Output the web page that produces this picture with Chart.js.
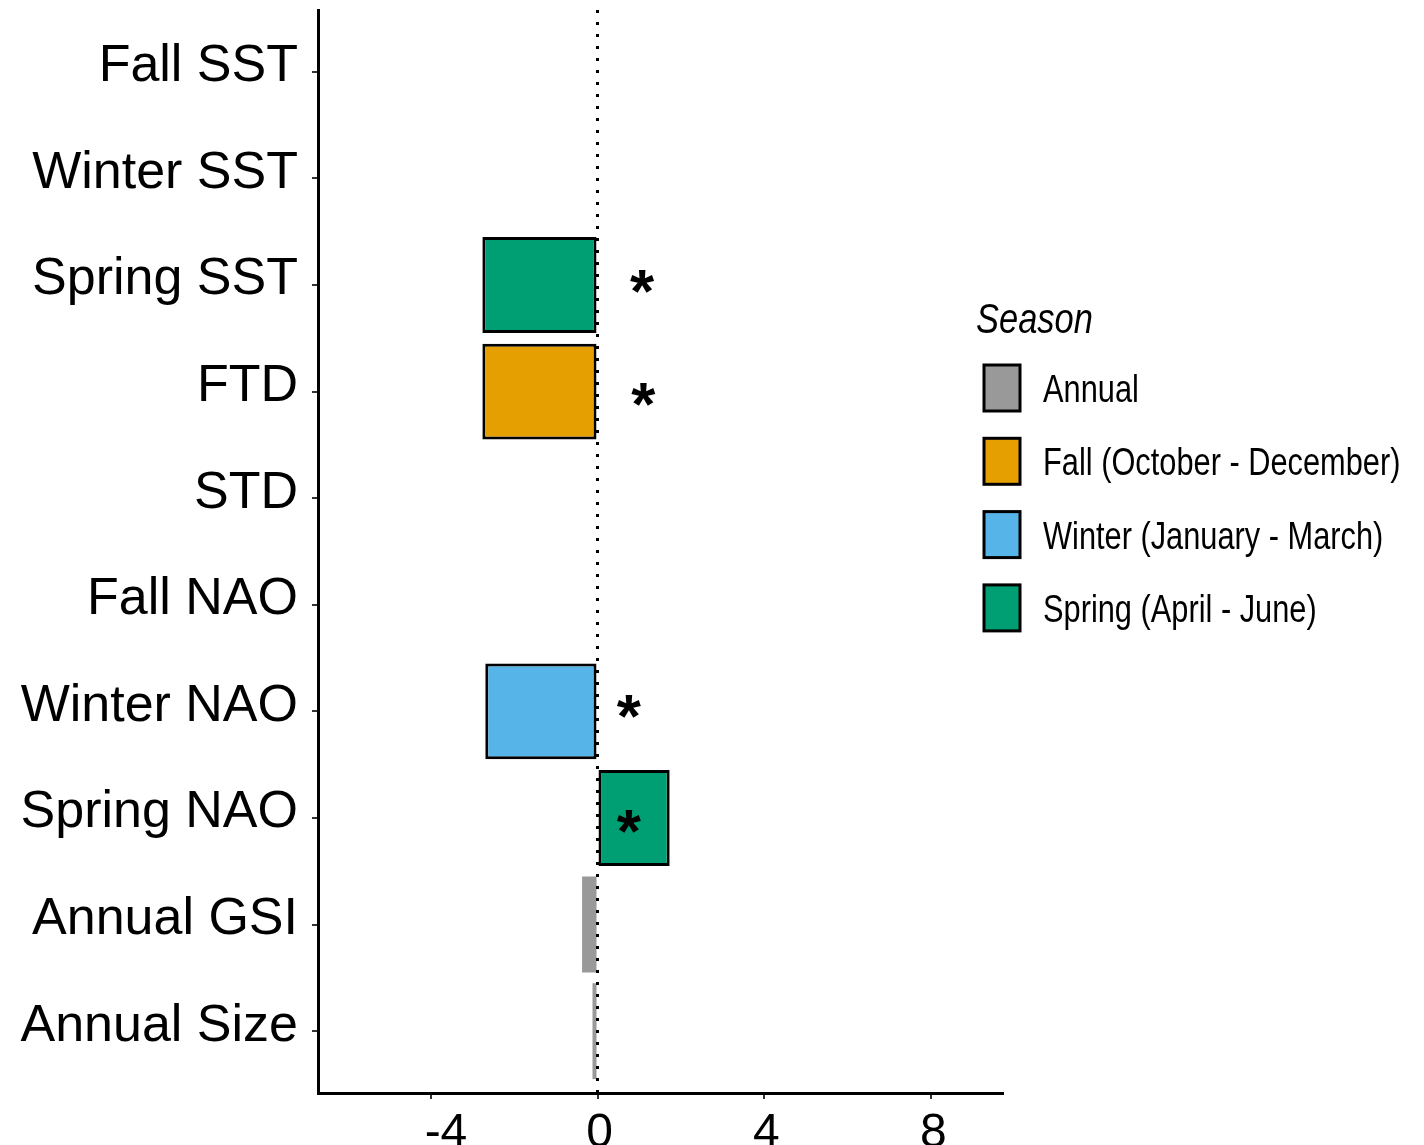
<!DOCTYPE html>
<html>
<head>
<meta charset="utf-8">
<script src="https://cdn.jsdelivr.net/npm/chart.js@4.4.0/dist/chart.umd.min.js"></script>
<style>
  html, body { margin: 0; padding: 0; background: #fff; }
</style>
</head>
<body>
<canvas id="myChart" width="1424" height="1145"></canvas>
<script>
const categories = ["Fall SST", "Winter SST", "Spring SST", "FTD", "STD", "Fall NAO", "Winter NAO", "Spring NAO", "Annual GSI", "Annual Size"];
const seasons = ["Annual", "Fall (October - December)", "Winter (January - March)", "Spring (April - June)"];
const seasonColors = ["#999999", "#E69F00", "#56B4E9", "#009E73"];
// one value per category, null = no bar
const annualValues = [null, null, null, null, null, null, null, null, -0.37, -0.12];
const fallValues = [null, null, null, -2.76, null, null, null, null, null, null];
const winterValues = [null, null, null, null, null, null, -2.69, null, null, null];
const springValues = [null, null, -2.76, null, null, null, null, 1.73, null, null];
// significance stars (x value, category position)
const starX = [1.07, 1.1, 0.75, 0.75];
const starY = [1.99, 3.05, 5.97, 7.05];
const xTicks = [-4, 0, 4, 8];
const xMin = -6.7;
const xMax = 9.72;

const ctx = document.getElementById("myChart").getContext("2d");

const toPoints = (vals) => vals.map((v, i) => (v === null ? null : { x: v, y: i })).filter((p) => p);

const makeSet = (idx, vals, border) => ({
  label: seasons[idx],
  data: toPoints(vals),
  backgroundColor: seasonColors[idx],
  borderColor: "#000",
  borderWidth: border,
  borderSkipped: false,
  grouped: false,
  barPercentage: 0.9,
  categoryPercentage: 1.0,
});

const noPad = (s) => {
  s.paddingTop = 0;
  s.paddingBottom = 0;
  s.paddingLeft = 0;
  s.paddingRight = 0;
};

//Zero line, stars and legend
const extras = {
  id: "extras",
  afterDatasetsDraw(chart) {
    const c = chart.ctx;
    const xs = chart.scales.x;
    const ys = chart.scales.y;
    const area = chart.chartArea;
    const x0 = xs.getPixelForValue(0);
    c.save();
    c.strokeStyle = "#000";
    c.lineWidth = 3;
    c.setLineDash([3, 9]);
    c.beginPath();
    c.moveTo(x0, area.top);
    c.lineTo(x0, area.bottom);
    c.stroke();
    c.setLineDash([]);

    const starSize = 62;
    c.fillStyle = "#000";
    c.font = "bold " + starSize + "px 'Liberation Sans', Arial, sans-serif";
    c.textAlign = "center";
    c.textBaseline = "alphabetic";
    for (let i = 0; i < starX.length; i++) {
      const px = xs.getPixelForValue(starX[i]);
      const py = ys.getPixelForValue(starY[i]);
      c.fillText("*", px, py + 0.46 * starSize);
    }
    c.restore();
  },
  afterDraw(chart) {
    const c = chart.ctx;
    c.save();
    c.fillStyle = "#000";
    c.textAlign = "left";
    c.textBaseline = "alphabetic";
    // narrow font look
    c.save();
    c.translate(976, 333);
    c.scale(0.82, 1);
    c.font = "italic 42px 'Liberation Sans', Arial, sans-serif";
    c.fillText("Season", 0, 0);
    c.restore();

    const boxTop = 365;
    const step = 73.3;
    for (let i = 0; i < seasons.length; i++) {
      const top = boxTop + i * step;
      c.fillStyle = seasonColors[i];
      c.fillRect(984, top, 36, 46);
      c.strokeStyle = "#000";
      c.lineWidth = 3;
      c.strokeRect(984, top, 36, 46);
      c.fillStyle = "#000";
      c.save();
      c.translate(1043, top + 23 + 14);
      c.scale(0.81, 1);
      c.font = "38px 'Liberation Sans', Arial, sans-serif";
      c.fillText(seasons[i], 0, 0);
      c.restore();
    }
    c.restore();
  },
};

const myChart = new Chart(ctx, {
  type: "bar",
  data: {
    datasets: [
      makeSet(0, annualValues, 0),
      makeSet(1, fallValues, 3),
      makeSet(2, winterValues, 3),
      makeSet(3, springValues, 3),
    ],
  },
  options: {
    indexAxis: "y",
    responsive: false,
    animation: false,
    devicePixelRatio: 1,
    layout: {
      padding: { top: 10, right: 421, left: 0, bottom: 0 },
    },
    plugins: {
      legend: { display: false },
      tooltip: { enabled: false },
    },
    scales: {
      x: {
        type: "linear",
        min: xMin,
        max: xMax,
        afterBuildTicks: (s) => {
          s.ticks = xTicks.map((v) => ({ value: v }));
        },
        afterFit: (s) => {
          s.height = 52;
          noPad(s);
        },
        grid: { drawOnChartArea: false, drawTicks: true, tickLength: 6, color: "#333", lineWidth: 2 },
        border: { display: true, color: "#000", width: 3 },
        ticks: {
          color: "#000",
          padding: 6,
          labelOffset: 2,
          maxRotation: 0,
          // the original's negative labels sit right of their tick
          callback: (v) => (v < 0 ? "  " + v : String(v)),
          font: { family: "'Liberation Sans', Arial, sans-serif", size: 48 },
        },
      },
      y: {
        type: "linear",
        reverse: true,
        offset: false,
        min: -0.58,
        max: 9.58,
        afterBuildTicks: (s) => {
          s.ticks = categories.map((c, i) => ({ value: i }));
        },
        afterFit: (s) => {
          s.width = 318;
          noPad(s);
        },
        grid: { offset: false, drawOnChartArea: false, drawTicks: true, tickLength: 6, color: "#333", lineWidth: 2 },
        border: { display: true, color: "#000", width: 3 },
        ticks: {
          color: "#000",
          padding: 14,
          labelOffset: -5,
          autoSkip: false,
          callback: (v) => categories[v],
          font: { family: "'Liberation Sans', Arial, sans-serif", size: 52 },
        },
      },
    },
  },
  plugins: [extras],
});
</script>
</body>
</html>
